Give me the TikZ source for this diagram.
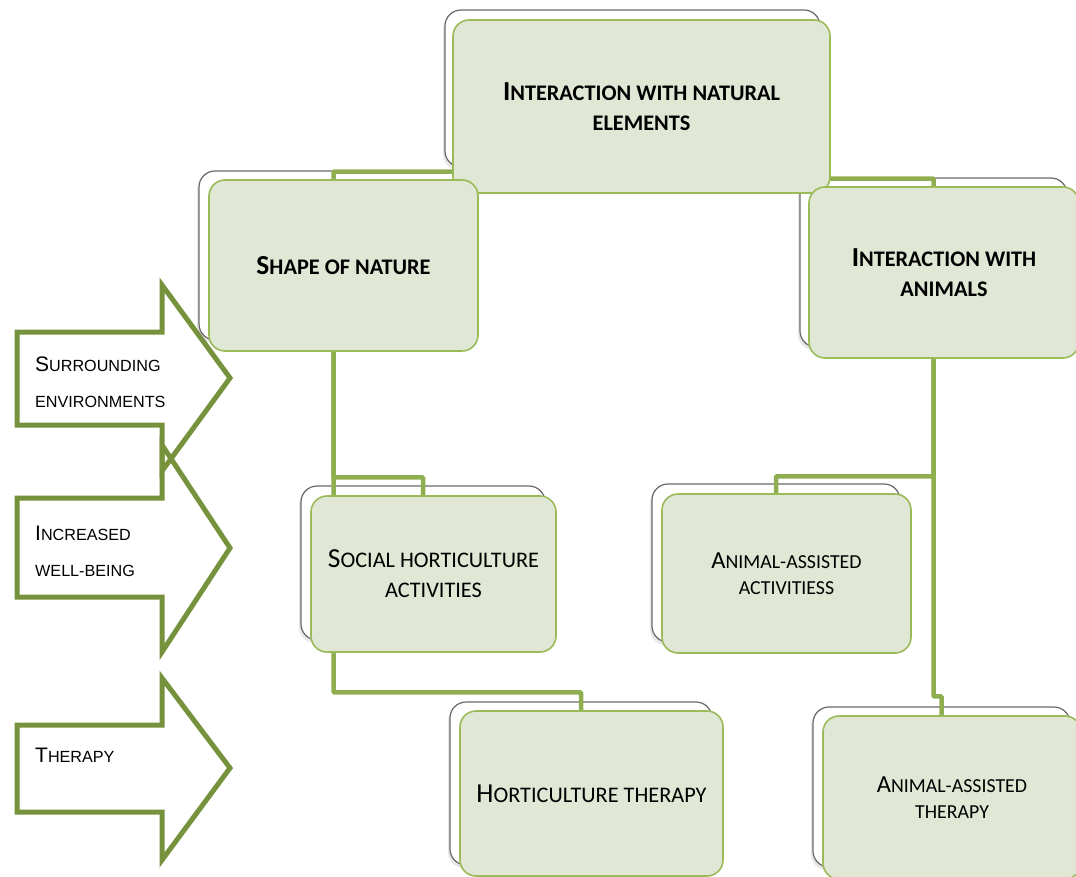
\documentclass[tikz,border=0pt]{standalone}
\usepackage{fontspec}
\setmainfont{Carlito}
\newfontfamily\arialfont{Liberation Sans}
\usetikzlibrary{calc,positioning,shadows}
\definecolor{boxfill}{RGB}{224,231,213}
\definecolor{boxline}{RGB}{155,187,89}
\definecolor{linkgreen}{RGB}{143,174,79}
\definecolor{arrowgreen}{RGB}{118,146,60}
\definecolor{backline}{RGB}{105,105,105}
% fake small capitals: the rest of a word in smaller capitals
\newcommand{\lc}[1]{\scalebox{0.81}{#1}}
\newcommand{\ac}[1]{\scalebox{0.77}{#1}}
\tikzset{
  back/.style={rectangle,rounded corners=16pt,fill=white,draw=backline,
    line width=1.2pt,
    drop shadow={shadow xshift=-2pt,shadow yshift=-3pt,opacity=0.2}},
  front/.style={rectangle,rounded corners=16pt,fill=boxfill,draw=boxline,
    line width=1.6pt,inner sep=0pt,align=center},
  headbox/.style={front,font=\bfseries\fontsize{27.5}{30}\selectfont},
  leafbox/.style={front,font=\fontsize{27.5}{30}\selectfont},
  smallleaf/.style={front,font=\fontsize{24.5}{26.5}\selectfont},
  link/.style={linkgreen,line width=4.5pt,rounded corners=1pt},
  banner/.style={arrowgreen,line width=5pt,line join=miter},
  bannerlab/.style={anchor=west,align=left,inner sep=0pt,
    font=\arialfont\fontsize{21}{36}\selectfont}
}

\begin{document}
\begin{tikzpicture}[x=1pt,y=-1pt]
  \useasboundingbox (0,0) rectangle (1076,876);

  % left-hand arrows
  \foreach \ya/\yb/\yc/\yd/\ye in {285/332/378/425/471,445/498/548/597/652,678/725/768/812/860}
    \draw[banner] (17,\yb) -- (162,\yb) -- (162,\ya) -- (230,\yc) -- (162,\ye) -- (162,\yd) -- (17,\yd) -- cycle;
  \node[bannerlab] (lab1) at (35,382) {S\ac{URROUNDING}\\\ac{ENVIRONMENTS}};
  \node[bannerlab] (lab2) at (35,551.5) {I\ac{NCREASED}\\\ac{WELL-BEING}};
  \node[bannerlab] (lab3) at (35,755.5) {T\ac{HERAPY}};

  % white boxes behind
  \node[back,minimum width=375pt,minimum height=157pt] (topS) at (632.5,88.5) {};
  \node[back,minimum width=269pt,minimum height=169pt] (shapeS) at (333.5,255.5) {};
  \node[back,minimum width=267pt,minimum height=169pt] (animS) at (933.5,262.5) {};
  \node[back,minimum width=244pt,minimum height=154pt] (socS) at (423,563) {};
  \node[back,minimum width=248pt,minimum height=158pt] (aaaS) at (776,563) {};
  \node[back,minimum width=262pt,minimum height=163pt] (hortS) at (581,783.5) {};
  \node[back,minimum width=257pt,minimum height=160pt] (aatS) at (941.5,787) {};

  % connectors
  \draw[link] (shapeS.center) |- ([yshift=-4pt]topS.south);
  \draw[link] (animS.center) |- ([yshift=-11pt]topS.south);
  \draw[link] (socS.center) -- ([yshift=8pt]socS.north) -| (shapeS.center);
  \draw[link] (hortS.center) -- ([yshift=9pt]hortS.north) -| (shapeS.center);
  \draw[link] (aaaS.center) -- ([yshift=7pt]aaaS.north) -| (animS.center);
  \draw[link] (aatS.center) -- ([yshift=10pt]aatS.north) -| (animS.center);

  % the boxes themselves
  \node[headbox,minimum width=377pt,minimum height=173pt] (top) at (641.5,106.5)
    {I\lc{NTERACTION WITH NATURAL}\\\lc{ELEMENTS}};
  \node[headbox,minimum width=269pt,minimum height=171pt] (shape) at (343.5,265.5)
    {S\lc{HAPE OF NATURE}};
  \node[headbox,minimum width=270pt,minimum height=171pt] (anim) at (944,272.5)
    {I\lc{NTERACTION WITH}\\\lc{ANIMALS}};
  \node[leafbox,minimum width=245pt,minimum height=156pt] (soc) at (433.5,574)
    {S\lc{OCIAL HORTICULTURE}\\\lc{ACTIVITIES}};
  \node[smallleaf,minimum width=249pt,minimum height=159pt] (aaa) at (786.5,573.5)
    {A\lc{NIMAL-ASSISTED}\\\lc{ACTIVITIESS}};
  \node[leafbox,minimum width=263pt,minimum height=165pt] (hort) at (591.5,793.5)
    {H\lc{ORTICULTURE THERAPY}};
  \node[smallleaf,minimum width=258pt,minimum height=163pt] (aat) at (952,797.5)
    {A\lc{NIMAL-ASSISTED}\\\lc{THERAPY}};
\end{tikzpicture}
\end{document}
